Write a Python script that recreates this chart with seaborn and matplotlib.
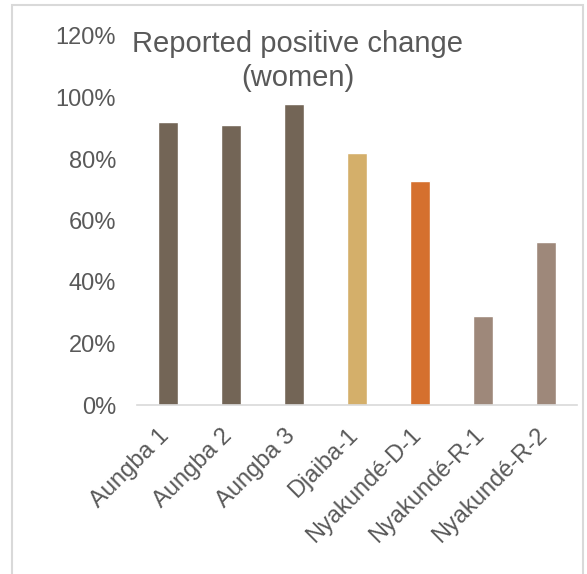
import matplotlib
matplotlib.use("Agg")
import matplotlib.pyplot as plt
from matplotlib.patches import Rectangle
from matplotlib.ticker import PercentFormatter, MultipleLocator
from matplotlib.transforms import ScaledTranslation
import seaborn as sns
import pandas as pd

sites = ["Aungba 1", "Aungba 2", "Aungba 3", "Djaiba-1",
         "Nyakundé-D-1", "Nyakundé-R-1", "Nyakundé-R-2"]
positive_change = [92, 91, 98, 82, 73, 29, 53]
bar_colors = ["#736556", "#736556", "#736556", "#D4AF6A",
              "#D5702E", "#9E887A", "#9E887A"]

df = pd.DataFrame({"site": sites, "share": positive_change})

sns.set_theme(style="white")
plt.rcParams["font.family"] = ["Liberation Sans", "DejaVu Sans"]

text_gray = "#595959"
line_gray = "#D9D9D9"

fig = plt.figure(figsize=(5.87, 5.74), dpi=100)
W, H = 587, 574
ax = fig.add_axes([137 / W, (H - 405) / H, (577 - 137) / W, (405 - 36) / H])

sns.barplot(data=df, x="site", y="share", hue="site", palette=bar_colors,
            width=0.32, legend=False, ax=ax, saturation=1)

ax.set_ylim(0, 120)
ax.set_xlim(-0.5, len(sites) - 0.5)
ax.yaxis.set_major_locator(MultipleLocator(20))
ax.yaxis.set_major_formatter(PercentFormatter(decimals=0))
ax.set_xlabel("")
ax.set_ylabel("")

for side in ["top", "right", "left"]:
    ax.spines[side].set_visible(False)
ax.spines["bottom"].set_color(line_gray)
ax.spines["bottom"].set_linewidth(1.2)

ax.tick_params(axis="y", length=0, pad=15, labelsize=17, labelcolor=text_gray)
ax.tick_params(axis="x", length=0, pad=14, labelsize=17, labelcolor=text_gray)
shift_left = ScaledTranslation(-10 / 100, 0, fig.dpi_scale_trans)
for lbl in ax.get_xticklabels():
    lbl.set_rotation(45)
    lbl.set_ha("right")
    lbl.set_va("top")
    lbl.set_rotation_mode("anchor")
    lbl.set_transform(lbl.get_transform() + shift_left)

fig.text(298 / W, (H - 30) / H, "Reported positive change\n(women)",
         ha="center", va="top", fontsize=21, color=text_gray,
         linespacing=1.27)

# chart-area border
fig.patches.append(Rectangle((12 / W, -0.05), (583 - 12) / W, (H - 5) / H + 0.05,
                             transform=fig.transFigure, fill=False,
                             edgecolor=line_gray, linewidth=1.5))

fig.savefig("out.png", dpi=100, facecolor="white")
